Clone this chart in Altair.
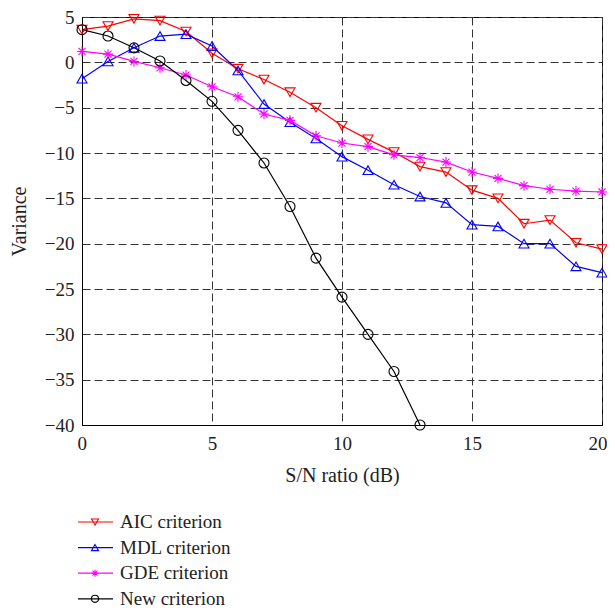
import altair as alt
import pandas as pd

snr = list(range(21))
aic = [3.6, 4.0, 4.8, 4.6, 3.4, 1.0, -0.7, -1.9, -3.3, -5.0, -7.0, -8.5, -9.9,
       -11.5, -12.1, -14.1, -15.0, -17.8, -17.4, -19.9, -20.6]
mdl = [-1.8, 0.1, 1.6, 2.9, 3.1, 1.8, -0.9, -4.6, -6.6, -8.4, -10.4, -11.9, -13.5,
       -14.8, -15.5, -17.9, -18.1, -20.0, -20.0, -22.5, -23.2]
gde = [1.2, 0.9, 0.1, -0.6, -1.4, -2.7, -3.8, -5.7, -6.4, -8.1, -8.9, -9.3, -10.2,
       -10.5, -11.0, -12.1, -12.8, -13.6, -14.0, -14.2, -14.3]
new_snr = list(range(14))
new = [3.6, 2.9, 1.6, 0.15, -2.0, -4.3, -7.5, -11.1, -15.9, -21.6, -25.9, -30.0,
       -34.1, -40.0]

series_names = ["AIC criterion", "MDL criterion", "GDE criterion", "New criterion"]
colors = ["#ff0000", "#0000ff", "#ff00ff", "#000000"]
asterisk = "M-1,0L1,0M0,-1L0,1M-0.7,-0.7L0.7,0.7M-0.7,0.7L0.7,-0.7"
shapes = ["triangle-down", "triangle-up", asterisk, "circle"]

rows = []
for name, xs, ys in [(series_names[0], snr, aic), (series_names[1], snr, mdl),
                     (series_names[2], snr, gde), (series_names[3], new_snr, new)]:
    for x, y in zip(xs, ys):
        rows.append({"snr": x, "var": y, "series": name})
df = pd.DataFrame(rows)
leg = pd.DataFrame({"series": series_names})

FONT = "Liberation Serif, DejaVu Serif, serif"
FS = 19
TFS = 20
color_scale = alt.Scale(domain=series_names, range=colors)
shape_scale = alt.Scale(domain=series_names, range=shapes)

x_enc = alt.X("snr:Q", scale=alt.Scale(domain=[0, 20], nice=False),
              axis=alt.Axis(values=[0, 5, 10, 15, 20], title="S/N ratio (dB)"))
y_enc = alt.Y("var:Q", scale=alt.Scale(domain=[-40, 5], nice=False),
              axis=alt.Axis(values=list(range(-40, 6, 5)), title="Variance"))

base = alt.Chart(df)
lines = base.mark_line(strokeWidth=1.2, clip=False).encode(
    x=x_enc, y=y_enc,
    color=alt.Color("series:N", scale=color_scale, legend=None),
    detail="series:N",
)
points = base.mark_point(filled=False, strokeWidth=1.1, size=100, opacity=1).encode(
    x=x_enc, y=y_enc,
    color=alt.Color("series:N", scale=color_scale, legend=None),
    shape=alt.Shape("series:N", scale=shape_scale, legend=None),
)

legbase = alt.Chart(leg).transform_window(
    idx="row_number()"
).transform_calculate(py="505 + 25.6 * (datum.idx - 1)")
leg_rule = legbase.mark_rule(strokeWidth=1.2).encode(
    x=alt.value(-4), x2=alt.value(31),
    y=alt.Y("py:Q", scale=None, axis=None),
    color=alt.Color("series:N", scale=color_scale, legend=None),
)
leg_pts = legbase.mark_point(filled=False, strokeWidth=1.1, size=50, opacity=1).encode(
    x=alt.value(13),
    y=alt.Y("py:Q", scale=None, axis=None),
    color=alt.Color("series:N", scale=color_scale, legend=None),
    shape=alt.Shape("series:N", scale=shape_scale, legend=None),
)
leg_txt = legbase.mark_text(align="left", baseline="middle", font=FONT,
                            fontSize=FS, color="#222222").encode(
    x=alt.value(38),
    y=alt.Y("py:Q", scale=None, axis=None),
    text="series:N",
)

chart = alt.layer(lines, points, leg_rule, leg_pts, leg_txt).properties(
    width=520, height=408,
    autosize=alt.AutoSizeParams(type="none"),
    padding={"left": 74, "top": 9, "right": 5, "bottom": 183},
).configure(font=FONT).configure_view(
    stroke="black", strokeWidth=1
).configure_axis(
    labelFont=FONT, labelFontSize=FS, labelColor="#222222",
    titleFont=FONT, titleFontSize=TFS, titleFontWeight="normal", titleColor="#222222",
    grid=True, gridDash=[8, 4], gridColor="#333333", gridWidth=1, gridOpacity=1,
    ticks=False, domainColor="black", domainWidth=1,
).configure_axisX(labelPadding=9, titlePadding=12, labelFlush=True,
                  labelFlushOffset=5).configure_axisY(
    labelPadding=8, titlePadding=15, labelFlush=False)

chart.save("out.html", embed_options={"renderer": "svg", "actions": False})
